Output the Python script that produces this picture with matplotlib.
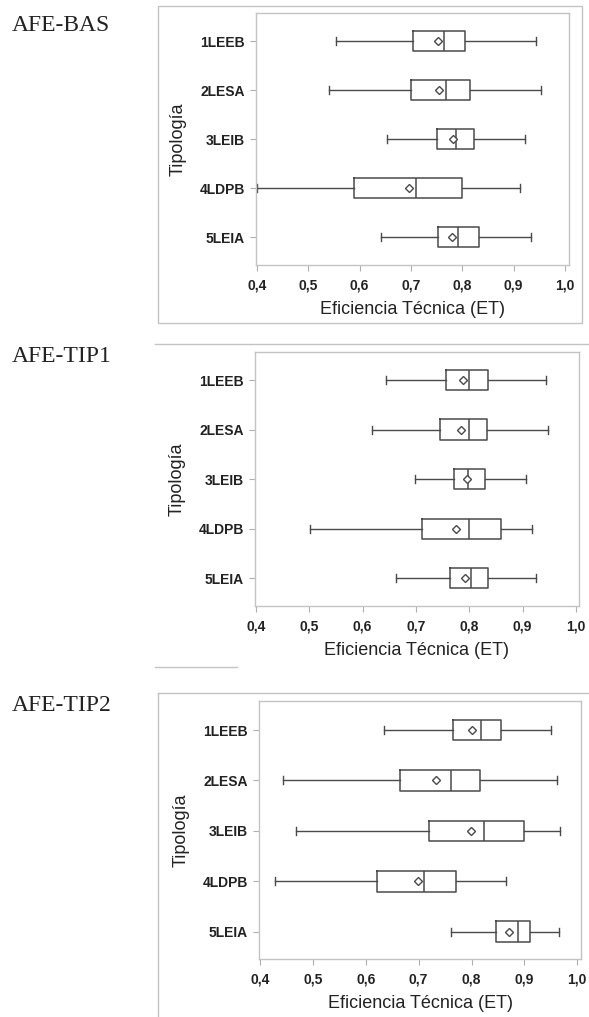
import matplotlib
matplotlib.use("Agg")
import matplotlib.pyplot as plt
from matplotlib.lines import Line2D
from matplotlib.patches import Rectangle

W, H = 589, 1017

TIPOLOGIAS = ["1LEEB", "2LESA", "3LEIB", "4LDPB", "5LEIA"]
XTICKS = [0.4, 0.5, 0.6, 0.7, 0.8, 0.9, 1.0]
XTICK_LABELS = ["0,4", "0,5", "0,6", "0,7", "0,8", "0,9", "1,0"]
PANEL_NAMES = ["AFE-BAS", "AFE-TIP1", "AFE-TIP2"]

# box stats, one value per tipologia
BAS_LO = [0.554, 0.540, 0.653, 0.400, 0.641]
BAS_Q1 = [0.704, 0.701, 0.750, 0.589, 0.752]
BAS_MED = [0.764, 0.768, 0.788, 0.709, 0.792]
BAS_Q3 = [0.806, 0.815, 0.822, 0.800, 0.832]
BAS_HI = [0.943, 0.953, 0.922, 0.913, 0.933]
BAS_MEAN = [0.752, 0.754, 0.781, 0.696, 0.780]

TIP1_LO = [0.643, 0.618, 0.699, 0.502, 0.663]
TIP1_Q1 = [0.756, 0.746, 0.771, 0.712, 0.763]
TIP1_MED = [0.800, 0.800, 0.797, 0.800, 0.804]
TIP1_Q3 = [0.836, 0.834, 0.830, 0.859, 0.835]
TIP1_HI = [0.944, 0.948, 0.906, 0.918, 0.926]
TIP1_MEAN = [0.788, 0.785, 0.796, 0.776, 0.793]

TIP2_LO = [0.634, 0.443, 0.468, 0.428, 0.761]
TIP2_Q1 = [0.764, 0.665, 0.720, 0.622, 0.847]
TIP2_MED = [0.818, 0.761, 0.824, 0.710, 0.887]
TIP2_Q3 = [0.855, 0.816, 0.900, 0.770, 0.911]
TIP2_HI = [0.950, 0.962, 0.967, 0.866, 0.966]
TIP2_MEAN = [0.800, 0.733, 0.799, 0.698, 0.871]

PANELS = [
    (BAS_LO, BAS_Q1, BAS_MED, BAS_Q3, BAS_HI, BAS_MEAN),
    (TIP1_LO, TIP1_Q1, TIP1_MED, TIP1_Q3, TIP1_HI, TIP1_MEAN),
    (TIP2_LO, TIP2_Q1, TIP2_MED, TIP2_Q3, TIP2_HI, TIP2_MEAN),
]

# layout in pixels: axes (left, top, right, bottom), xlim, ylim, title baseline
AX_BOX = [(256, 13, 569, 265), (255, 352, 579, 606), (259, 701, 581, 959)]
XLIMS = [(0.398, 1.008), (0.398, 1.006), (0.398, 1.007)]
YLIMS = [(5.57, 0.42), (5.56, 0.435), (5.54, 0.425)]
TITLE_Y = [31, 362, 711]

SANS = ["Liberation Sans", "DejaVu Sans"]
SERIF = ["Liberation Serif", "DejaVu Serif"]
BOXC = "#4a4a4a"
FRAMEC = "#c4c4c4"

fig = plt.figure(figsize=(W / 100, H / 100), dpi=100)


def fx(x):
    return x / W


def fy(y):
    return 1 - y / H


for i, (stats_lists, box) in enumerate(zip(PANELS, AX_BOX)):
    l, t, r, b = box
    ax = fig.add_axes([fx(l), fy(b), (r - l) / W, (b - t) / H])
    lo, q1, med, q3, hi, mean = stats_lists
    stats = []
    for k, name in enumerate(TIPOLOGIAS):
        stats.append(dict(label=name, whislo=lo[k], q1=q1[k], med=med[k],
                          q3=q3[k], whishi=hi[k], mean=mean[k], fliers=[]))
    ax.bxp(stats, positions=range(1, 6), orientation="horizontal", widths=0.41,
           capwidths=0.16, showmeans=True, patch_artist=False,
           boxprops=dict(color=BOXC, lw=1.1),
           whiskerprops=dict(color=BOXC, lw=1.0),
           capprops=dict(color=BOXC, lw=1.0),
           medianprops=dict(color=BOXC, lw=1.1),
           meanprops=dict(marker="D", markersize=4.5, markerfacecolor="white",
                          markeredgecolor=BOXC, markeredgewidth=1.0))
    ax.set_xlim(*XLIMS[i])
    ax.set_ylim(*YLIMS[i])
    ax.set_xticks(XTICKS)
    ax.set_xticklabels(XTICK_LABELS, fontfamily=SANS, fontweight="bold", fontsize=10, color="#222222")
    ax.set_yticks(range(1, 6))
    ax.set_yticklabels(TIPOLOGIAS, fontfamily=SANS, fontweight="bold", fontsize=10, color="#222222")
    ax.tick_params(length=4, width=0.8, color="#b0b0b0", pad=4)
    ax.tick_params(axis="x", pad=6)
    for s in ax.spines.values():
        s.set_color(FRAMEC)
        s.set_linewidth(1.0)
    ax.set_xlabel("Eficiencia Técnica (ET)", fontfamily=SANS, fontsize=13, color="#222222", labelpad=6)
    ax.set_ylabel("Tipología", fontfamily=SANS, fontsize=13, color="#222222", labelpad=9)

    fig.text(fx(12), fy(TITLE_Y[i]), PANEL_NAMES[i], fontfamily=SERIF, fontsize=17,
             color="#222222", va="baseline", ha="left")

# outer frames around the panels as they appear on the page
fig.add_artist(Rectangle((fx(158), fy(323)), (582 - 158) / W, (323 - 6) / H,
                         transform=fig.transFigure, fill=False, ec=FRAMEC, lw=1.0))
fig.add_artist(Line2D([fx(155), fx(589)], [fy(344), fy(344)], transform=fig.transFigure, color=FRAMEC, lw=1.0))
fig.add_artist(Line2D([fx(155), fx(237)], [fy(667), fy(667)], transform=fig.transFigure, color=FRAMEC, lw=1.0))
fig.add_artist(Line2D([fx(158), fx(589)], [fy(693), fy(693)], transform=fig.transFigure, color=FRAMEC, lw=1.0))
fig.add_artist(Line2D([fx(158), fx(158)], [fy(693), fy(1017)], transform=fig.transFigure, color=FRAMEC, lw=1.0))

fig.savefig("out.png", dpi=100)
